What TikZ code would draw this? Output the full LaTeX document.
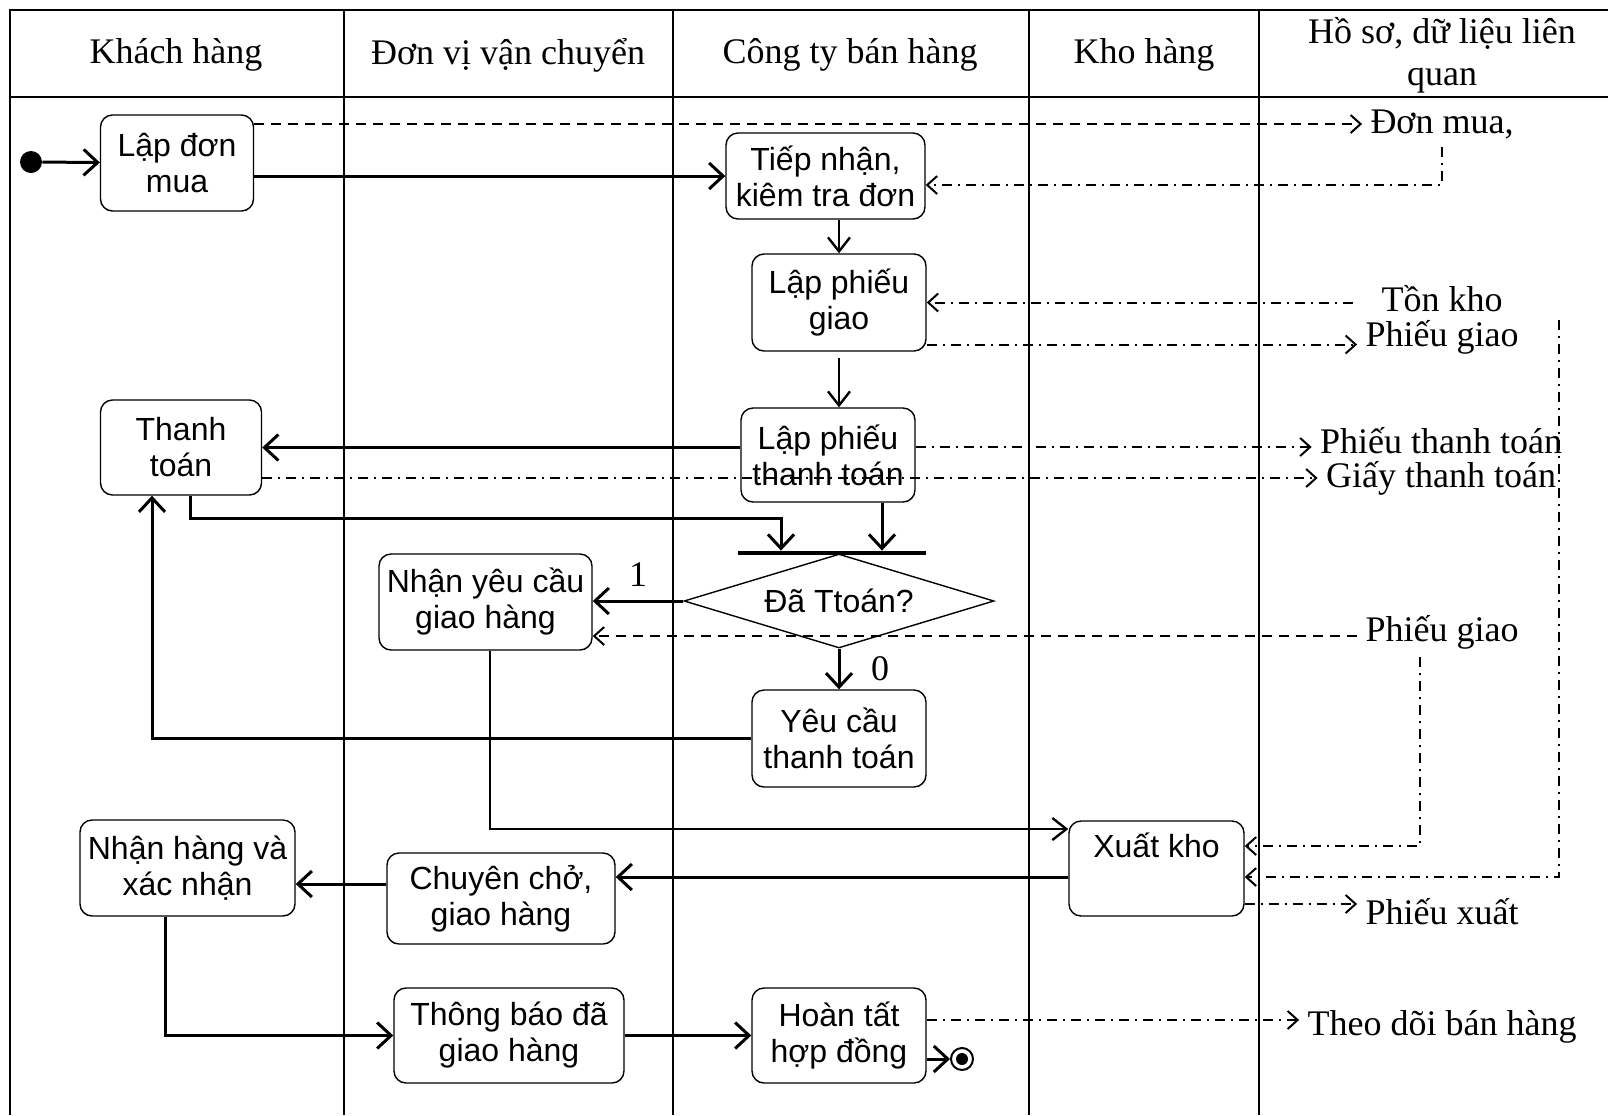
\documentclass[tikz,border=0pt]{standalone}
\usepackage{fontspec}
\setmainfont{Liberation Serif}
\setsansfont{Liberation Sans}
\usepackage{tikz}
\usetikzlibrary{arrows.meta,shapes.geometric}

\begin{document}
\begin{tikzpicture}[
  x=0.5pt,y=-0.5pt,
  font=\fontsize{18}{21}\selectfont,
  lanerule/.style={line width=0.7pt},
  actbox/.style={draw,rounded corners=6pt,line width=0.7pt,align=center,inner sep=2pt,font=\sffamily\fontsize{16}{18}\selectfont},
  docnote/.style={inner sep=4pt},
  ctrlline/.style={line width=1.5pt,-{Straight Barb[length=7pt,width=13pt]}},
  ctrlthin/.style={line width=1.2pt,-{Straight Barb[length=7pt,width=11pt]}},
  datadash/.style={line width=1pt,dash pattern=on 5pt off 3.5pt,-{Straight Barb[length=5pt,width=9pt]}},
  datadot/.style={line width=1pt,dash pattern=on 5pt off 3pt on 1pt off 3pt,-{Straight Barb[length=5pt,width=9pt]}},
]
\useasboundingbox (0,0) rectangle (1608,1115);
\draw[line width=1.1pt] (10,1115) -- (10,10) -- (1608,10);
\draw[line width=1.1pt] (10,97) -- (1608,97);
\foreach \lx in {344,673,1029,1259}
  \draw[lanerule] (\lx,10) -- (\lx,1115);

\node (hdkhach) at (176,55) {Khách hàng};
\node (hdvanchuyen) at (508,55) {Đơn vị vận chuyển};
\node (hdcongty) at (850,55) {Công ty bán hàng};
\node (hdkho) at (1144,55) {Kho hàng};
\node[align=center] (hdhoso) at (1442,55) {Hồ sơ, dữ liệu liên\\quan};

\node[circle,fill,minimum size=11pt,inner sep=0pt] (start) at (31,162) {};
\node[actbox,minimum width=76.5pt,minimum height=48pt] (lapdon) at (177,163) {Lập đơn\\mua};
\node[actbox,minimum width=99.5pt,minimum height=43pt] (tiepnhan) at (825.5,176) {Tiếp nhận,\\kiêm tra đơn};
\node[actbox,minimum width=87pt,minimum height=48.5pt] (lapgiao) at (839,302.5) {Lập phiếu\\giao};
\node[actbox,minimum width=87pt,minimum height=47pt] (lapthanhtoan) at (828,455) {Lập phiếu\\thanh toán};
\node[actbox,minimum width=80.5pt,minimum height=47.5pt] (thanhtoan) at (181,447.5) {Thanh\\toán};
\node[fill,minimum width=94pt,minimum height=2pt,inner sep=0pt] (join) at (832,553) {};
\node[draw,diamond,aspect=3.3,minimum width=155pt,minimum height=47pt,inner sep=0pt,line width=0.7pt,font=\sffamily\fontsize{16}{18}\selectfont] (ttoan) at (839,601) {Đã Ttoán?};
\node[actbox,minimum width=106.5pt,minimum height=48pt] (nhanyc) at (485.5,602) {Nhận yêu cầu\\giao hàng};
\node[actbox,minimum width=87pt,minimum height=48.5pt] (yeucautt) at (839,738.5) {Yêu cầu\\thanh toán};
\node[actbox,minimum width=87.5pt,minimum height=47.5pt,text height=12pt,text depth=23pt] (xuatkho) at (1156.5,868.5) {Xuất kho};
\node[actbox,minimum width=107.5pt,minimum height=48pt] (nhanhang) at (187.5,868) {Nhận hàng và\\xác nhận};
\node[actbox,minimum width=114pt,minimum height=45.5pt] (chuyencho) at (501,898.5) {Chuyên chở,\\giao hàng};
\node[actbox,minimum width=115pt,minimum height=47.5pt] (thongbao) at (509,1035.5) {Thông báo đã\\giao hàng};
\node[actbox,minimum width=87pt,minimum height=47.5pt] (hoantat) at (839,1035.5) {Hoàn tất\\hợp đồng};
\node[circle,draw,line width=1pt,minimum size=11pt,inner sep=0pt] (enddot) at (962,1059) {};
\node[circle,fill,minimum size=6pt,inner sep=0pt] (enddotin) at (enddot) {};

\node[docnote] (donmua) at (1442,124) {Đơn mua,};
\node[docnote] (tonkho) at (1442,299) {Tồn kho};
\node[docnote] (phieugiao) at (1442,337) {Phiếu giao};
\node[docnote] (phieutt) at (1441,441) {Phiếu thanh toán};
\node[docnote] (giaytt) at (1441,478) {Giấy thanh toán};
\node[docnote] (phieugiaoxk) at (1442,632) {Phiếu giao};
\node[docnote] (phieuxuat) at (1442,912) {Phiếu xuất};
\node[docnote] (theodoi) at (1442,1027) {Theo dõi bán hàng};
\coordinate (tonkhoxk) at (1559,320);

\draw[ctrlline] (start) -- (lapdon);
\draw[ctrlline] (lapdon.east |- tiepnhan.west) -- (tiepnhan.west);
\draw[datadash] (lapdon.east |- donmua.west) -- (donmua.west);
\draw[datadot] (donmua.south) |- ([yshift=-4.5pt]tiepnhan.east);
\draw[ctrlthin] (tiepnhan.south -| lapgiao.north) -- (lapgiao.north);
\draw[datadot] ([xshift=-10pt]tonkho.west |- lapgiao.east) -- (lapgiao.east);
\draw[datadot] ([yshift=-21pt]lapgiao.east) -- ([yshift=-21pt]lapgiao.east -| phieugiao.west);
\draw[ctrlthin] ([yshift=-3pt]lapgiao.south) -- (lapgiao.south |- lapthanhtoan.north);
\draw[ctrlline] (lapthanhtoan.west |- thanhtoan.east) -- (thanhtoan.east);
\draw[datadot] ([yshift=4pt]lapthanhtoan.east) -- ([yshift=4pt]lapthanhtoan.east -| phieutt.west);
\draw[datadot] ([yshift=-15.25pt]thanhtoan.east) -- ([yshift=-15.25pt]thanhtoan.east -| giaytt.west);
\draw[ctrlline] ([xshift=4.5pt]thanhtoan.south) -- ++(0,23) -| ([xshift=-25.5pt]join.north);
\draw[ctrlline] ([xshift=27pt]lapthanhtoan.south) -- ([xshift=27pt]lapthanhtoan.south |- join.north);
\draw[ctrlline] (ttoan.west) -- (ttoan.west -| nhanyc.east) node[midway,above=3pt] {1};
\draw[datadash] ([yshift=-17pt]nhanyc.east -| phieugiaoxk.west) -- ([yshift=-17pt]nhanyc.east);
\draw[ctrlline] (ttoan.south) -- (yeucautt.north) node[midway,right=12pt] {0};
\draw[ctrlline] (yeucautt.west) -| ([xshift=-14.5pt]thanhtoan.south);
\draw[ctrlthin] ([xshift=2.25pt]nhanyc.south) |- ([yshift=19.75pt]xuatkho.west);
\draw[datadot] ([xshift=-11pt]phieugiaoxk.south) |- ([yshift=11.25pt]xuatkho.east);
\draw[datadot] (tonkhoxk) |- ([yshift=-4.25pt]xuatkho.east);
\draw[datadot] ([yshift=-17.75pt]xuatkho.east) -- ([yshift=-17.75pt]xuatkho.east -| phieuxuat.west);
\draw[ctrlline] ([yshift=-4.25pt]xuatkho.west) -- ([yshift=-4.25pt]xuatkho.west -| chuyencho.east);
\draw[ctrlline] ([yshift=7.25pt]chuyencho.west) -- ([yshift=7.25pt]chuyencho.west -| nhanhang.east);
\draw[ctrlline] ([xshift=-11.25pt]nhanhang.south) |- (thongbao.west);
\draw[ctrlline] (thongbao.east) -- (hoantat.west);
\draw[ctrlline] (hoantat.east |- enddot.west) -- (enddot.west);
\draw[datadot] ([yshift=7.75pt]hoantat.east) -- ([yshift=7.75pt]hoantat.east -| theodoi.west);
\end{tikzpicture}
\end{document}
